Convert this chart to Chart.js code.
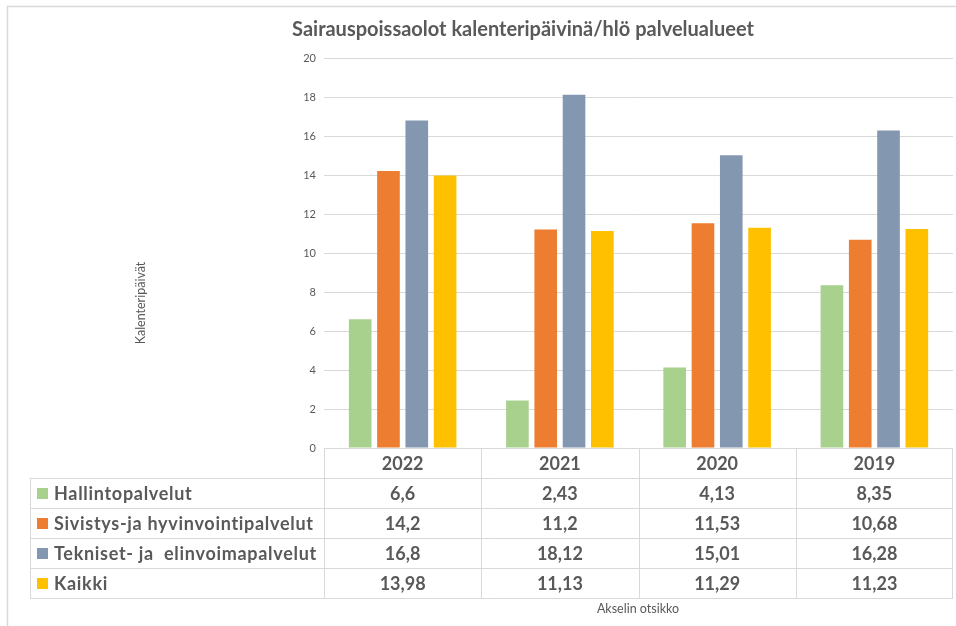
<!DOCTYPE html>
<html><head><meta charset="utf-8">
<script src="https://cdn.jsdelivr.net/npm/chart.js@4.4.0/dist/chart.umd.min.js"></script>
<style>html,body{margin:0;padding:0;background:#fff}#wrap{width:956px;height:626px;position:relative}</style>
</head><body><div id="wrap"><canvas id="c" width="956" height="626"></canvas></div>
<script>
const categories = ['2022', '2021', '2020', '2019'];
const seriesNames = ['Hallintopalvelut', 'Sivistys-ja hyvinvointipalvelut', 'Tekniset- ja  elinvoimapalvelut', 'Kaikki'];
const hallinto = [6.6, 2.43, 4.13, 8.35];
const sivistys = [14.2, 11.2, 11.53, 10.68];
const tekniset = [16.8, 18.12, 15.01, 16.28];
const kaikki = [13.98, 11.13, 11.29, 11.23];
const yTicks = [0, 2, 4, 6, 8, 10, 12, 14, 16, 18, 20];
const titleText = 'Sairauspoissaolot kalenteripäivinä/hlö palvelualueet';
const yTitle = 'Kalenteripäivät';
const xTitle = 'Akselin otsikko';
const colors = ['#a9d18e', '#ed7d31', '#8497b0', '#ffc000'];
const seriesValues = [hallinto, sivistys, tekniset, kaikki];

const FONT = 'Lato, "Open Sans", sans-serif';
const TXT = '#595959';
const LINE = '#d9d9d9';

function fmt(v) { return String(v).replace('.', ','); }

const decor = {
  id: 'decor',
  beforeDraw(chart) {
    const ctx = chart.ctx;
    ctx.save();
    ctx.fillStyle = '#fff';
    ctx.fillRect(0, 0, chart.width, chart.height);
    ctx.strokeStyle = LINE;
    ctx.lineWidth = 1.5;
    ctx.beginPath();
    ctx.moveTo(7.5, chart.height); ctx.lineTo(7.5, 6.5); ctx.lineTo(chart.width, 6.5);
    ctx.stroke();
    ctx.restore();
  },
  afterDraw(chart) {
    const ctx = chart.ctx;
    const x = chart.scales.x, ca = chart.chartArea;
    const n = categories.length;
    const step = ca.width / n;
    const rowH = 30;
    const tableLeft = 30;
    const top = ca.bottom;
    ctx.save();
    // title
    ctx.fillStyle = TXT;
    ctx.font = 'bold 20px ' + FONT;
    ctx.textAlign = 'center';
    ctx.textBaseline = 'middle';
    ctx.fillText(titleText, 523, 30);
    // y title
    ctx.save();
    ctx.translate(141, 303);
    ctx.rotate(-Math.PI / 2);
    ctx.font = '12.5px ' + FONT;
    ctx.fillText(yTitle, 0, 0);
    ctx.restore();
    // table lines
    ctx.strokeStyle = LINE;
    ctx.lineWidth = 1;
    ctx.beginPath();
    ctx.moveTo(ca.left, top + 0.5); ctx.lineTo(ca.right, top + 0.5);
    for (let r = 1; r <= seriesNames.length + 1; r++) {
      const yy = Math.round(top + r * rowH) + 0.5;
      ctx.moveTo(tableLeft, yy); ctx.lineTo(ca.right, yy);
    }
    const bottom = Math.round(top + (seriesNames.length + 1) * rowH) + 0.5;
    ctx.moveTo(tableLeft + 0.5, top + rowH); ctx.lineTo(tableLeft + 0.5, bottom);
    for (let i = 0; i <= n; i++) {
      const xv = i === n ? Math.round(ca.right) - 0.5 : Math.round(x.getPixelForValue(i) - step / 2) + 0.5;
      ctx.moveTo(xv, top); ctx.lineTo(xv, bottom);
    }
    ctx.stroke();
    // header
    ctx.fillStyle = TXT;
    ctx.font = 'bold 18px ' + FONT;
    ctx.textAlign = 'center';
    categories.forEach((c, i) => {
      ctx.fillText(c, x.getPixelForValue(i), top + rowH / 2 + 1);
    });
    // rows
    seriesNames.forEach((s, r) => {
      const cy = top + (r + 1.5) * rowH + 1;
      ctx.fillStyle = colors[r];
      ctx.fillRect(37, Math.round(cy - 6), 11, 11);
      ctx.fillStyle = TXT;
      ctx.textAlign = 'left';
      ctx.letterSpacing = '0.7px';
      ctx.fillText(s, 54, cy);
      ctx.letterSpacing = '0px';
      ctx.textAlign = 'center';
      seriesValues[r].forEach((v, i) => {
        ctx.fillText(fmt(v), x.getPixelForValue(i), cy);
      });
    });
    // x title
    ctx.font = '12.5px ' + FONT;
    ctx.fillText(xTitle, 638, 609);
    ctx.restore();
  }
};

new Chart(document.getElementById('c'), {
  type: 'bar',
  data: {
    labels: categories,
    datasets: seriesNames.map((s, i) => ({
      label: s,
      data: seriesValues[i],
      backgroundColor: colors[i],
      borderWidth: 0,
      categoryPercentage: 0.72,
      barPercentage: 0.8
    }))
  },
  options: {
    responsive: false,
    animation: false,
    layout: { padding: { left: 0, right: 3, top: 58, bottom: 178 } },
    plugins: { legend: { display: false }, tooltip: { enabled: false }, title: { display: false } },
    scales: {
      x: { display: false },
      y: {
        min: 0, max: 20,
        afterFit(scale) { scale.width = 324; },
        afterBuildTicks(scale) { scale.ticks = yTicks.map(v => ({ value: v })); },
        border: { display: false },
        grid: { color: LINE, drawTicks: false, lineWidth: 1 },
        ticks: { color: TXT, font: { family: FONT, size: 11 }, padding: 8 }
      }
    }
  },
  plugins: [decor]
});
</script>
</body></html>
